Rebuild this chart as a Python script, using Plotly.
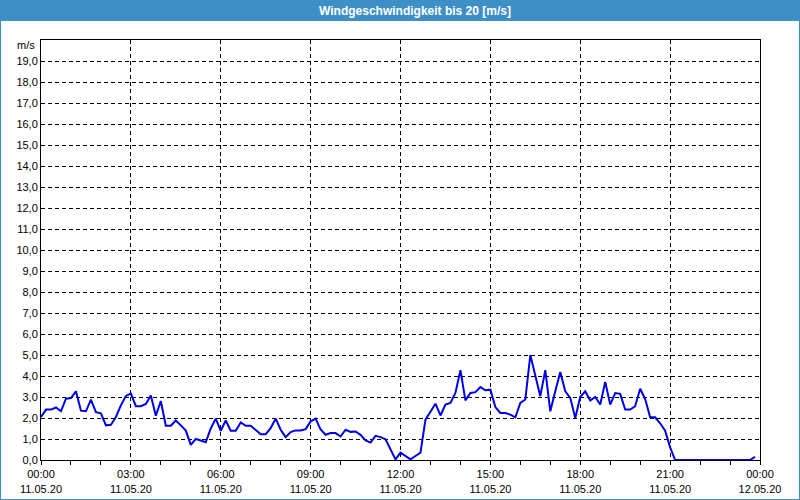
import pandas as pd
import plotly.graph_objects as go

# Wind speed readings every 10 minutes, 11.05.20 00:00 .. 23:50 (m/s)
wind_speed = [
    2.05, 2.40, 2.40, 2.50, 2.32, 2.92, 2.95, 3.27, 2.35, 2.32, 2.88, 2.28,
    2.22, 1.65, 1.68, 2.05, 2.60, 3.05, 3.16, 2.56, 2.56, 2.67, 3.07, 2.11,
    2.80, 1.63, 1.63, 1.88, 1.65, 1.40, 0.72, 1.00, 0.93, 0.85, 1.50, 1.97,
    1.39, 1.88, 1.39, 1.39, 1.79, 1.63, 1.63, 1.45, 1.23, 1.23, 1.52, 1.97,
    1.44, 1.09, 1.33, 1.41, 1.41, 1.47, 1.84, 1.97, 1.45, 1.20, 1.28, 1.28,
    1.12, 1.44, 1.34, 1.36, 1.20, 0.93, 0.83, 1.15, 1.09, 0.99, 0.51, 0.03,
    0.35, 0.19, 0.03, 0.19, 0.35, 1.92, 2.32, 2.68, 2.12, 2.64, 2.72, 3.19,
    4.28, 2.84, 3.19, 3.23, 3.47, 3.32, 3.35, 2.52, 2.24, 2.24, 2.16, 2.03,
    2.72, 2.88, 5.00, 4.07, 3.04, 4.28, 2.32, 3.27, 4.19, 3.27, 2.96, 2.00,
    3.00, 3.27, 2.83, 3.00, 2.64, 3.72, 2.64, 3.19, 3.15, 2.40, 2.40, 2.56,
    3.39, 2.90, 2.03, 2.03, 1.75, 1.40, 0.60, 0.00, 0.00, 0.00, 0.00, 0.00,
    0.00, 0.00, 0.00, 0.00, 0.00, 0.00, 0.00, 0.00, 0.00, 0.00, 0.00, 0.15,
]
start_time = "2020-05-11 00:00"
times = pd.date_range(start_time, periods=len(wind_speed), freq="10min")

x_tick_vals = pd.date_range("2020-05-11 00:00", "2020-05-12 00:00", freq="3h")
x_tick_text = [f"{t:%H:%M}<br>{t:%d.%m.%y}" for t in x_tick_vals]

y_tick_vals = list(range(0, 20))
y_tick_text = [f"{v},0" for v in y_tick_vals]
y_unit_label = "m/s"

title_text = "Windgeschwindigkeit bis 20 [m/s]"

W, H = 800, 500
L, R, T, B = 41, 40, 40, 40
PW, PH = W - L - R, H - T - B


def px(x):
    return (x - L) / PW


def py(y):
    return (H - B - y) / PH


BLUE_BAR = "#3d8fc6"
FONT = "Liberation Sans"

fig = go.Figure()
fig.add_trace(go.Scatter(
    x=times, y=wind_speed, mode="lines",
    line=dict(color="#0000e6", width=2),
    hoverinfo="x+y", showlegend=False,
))

fig.update_layout(
    width=W, height=H, autosize=False,
    margin=dict(l=L, r=R, t=T, b=B, pad=0, autoexpand=False),
    paper_bgcolor="white", plot_bgcolor="white",
    font=dict(family=FONT, size=11, color="#000000"),
    title=dict(text=title_text, x=415 / W, xanchor="center",
               y=1 - 10.5 / H, yanchor="middle", yref="container",
               automargin=False,
               font=dict(family=FONT, size=12, color="white", weight="bold")),
    annotations=[
        dict(text=y_unit_label, xref="paper", yref="paper",
             x=px(37), y=py(45), xanchor="right", yanchor="middle",
             showarrow=False, font=dict(family=FONT, size=11, color="black")),
    ],
    shapes=[
        dict(type="rect", xref="paper", yref="paper",
             x0=px(0), x1=px(W), y0=py(21), y1=py(0),
             fillcolor=BLUE_BAR, line=dict(width=0), layer="below"),
        dict(type="rect", xref="paper", yref="paper",
             x0=px(0), x1=px(W), y0=py(H), y1=py(0),
             fillcolor="rgba(0,0,0,0)", line=dict(color=BLUE_BAR, width=2),
             layer="above"),
    ],
)

fig.update_xaxes(
    range=[x_tick_vals[0], x_tick_vals[-1]],
    tickvals=x_tick_vals, ticktext=x_tick_text,
    showgrid=True, gridcolor="black", gridwidth=1, griddash="4px,3px",
    showline=True, linecolor="black", linewidth=1, mirror=True,
    ticks="outside", ticklen=4, tickcolor="black",
    minor=dict(dtick=3600000, ticks="outside", ticklen=4, tickcolor="black",
               showgrid=False),
    zeroline=False, fixedrange=True, automargin=False,
)
fig.update_yaxes(
    range=[0, 20],
    tickvals=y_tick_vals, ticktext=y_tick_text,
    showgrid=True, gridcolor="black", gridwidth=1, griddash="4px,3px",
    showline=True, linecolor="black", linewidth=1, mirror=True,
    ticks="", zeroline=False, fixedrange=True, automargin=False,
)

fig.write_html("out.html", config={"displayModeBar": False})
